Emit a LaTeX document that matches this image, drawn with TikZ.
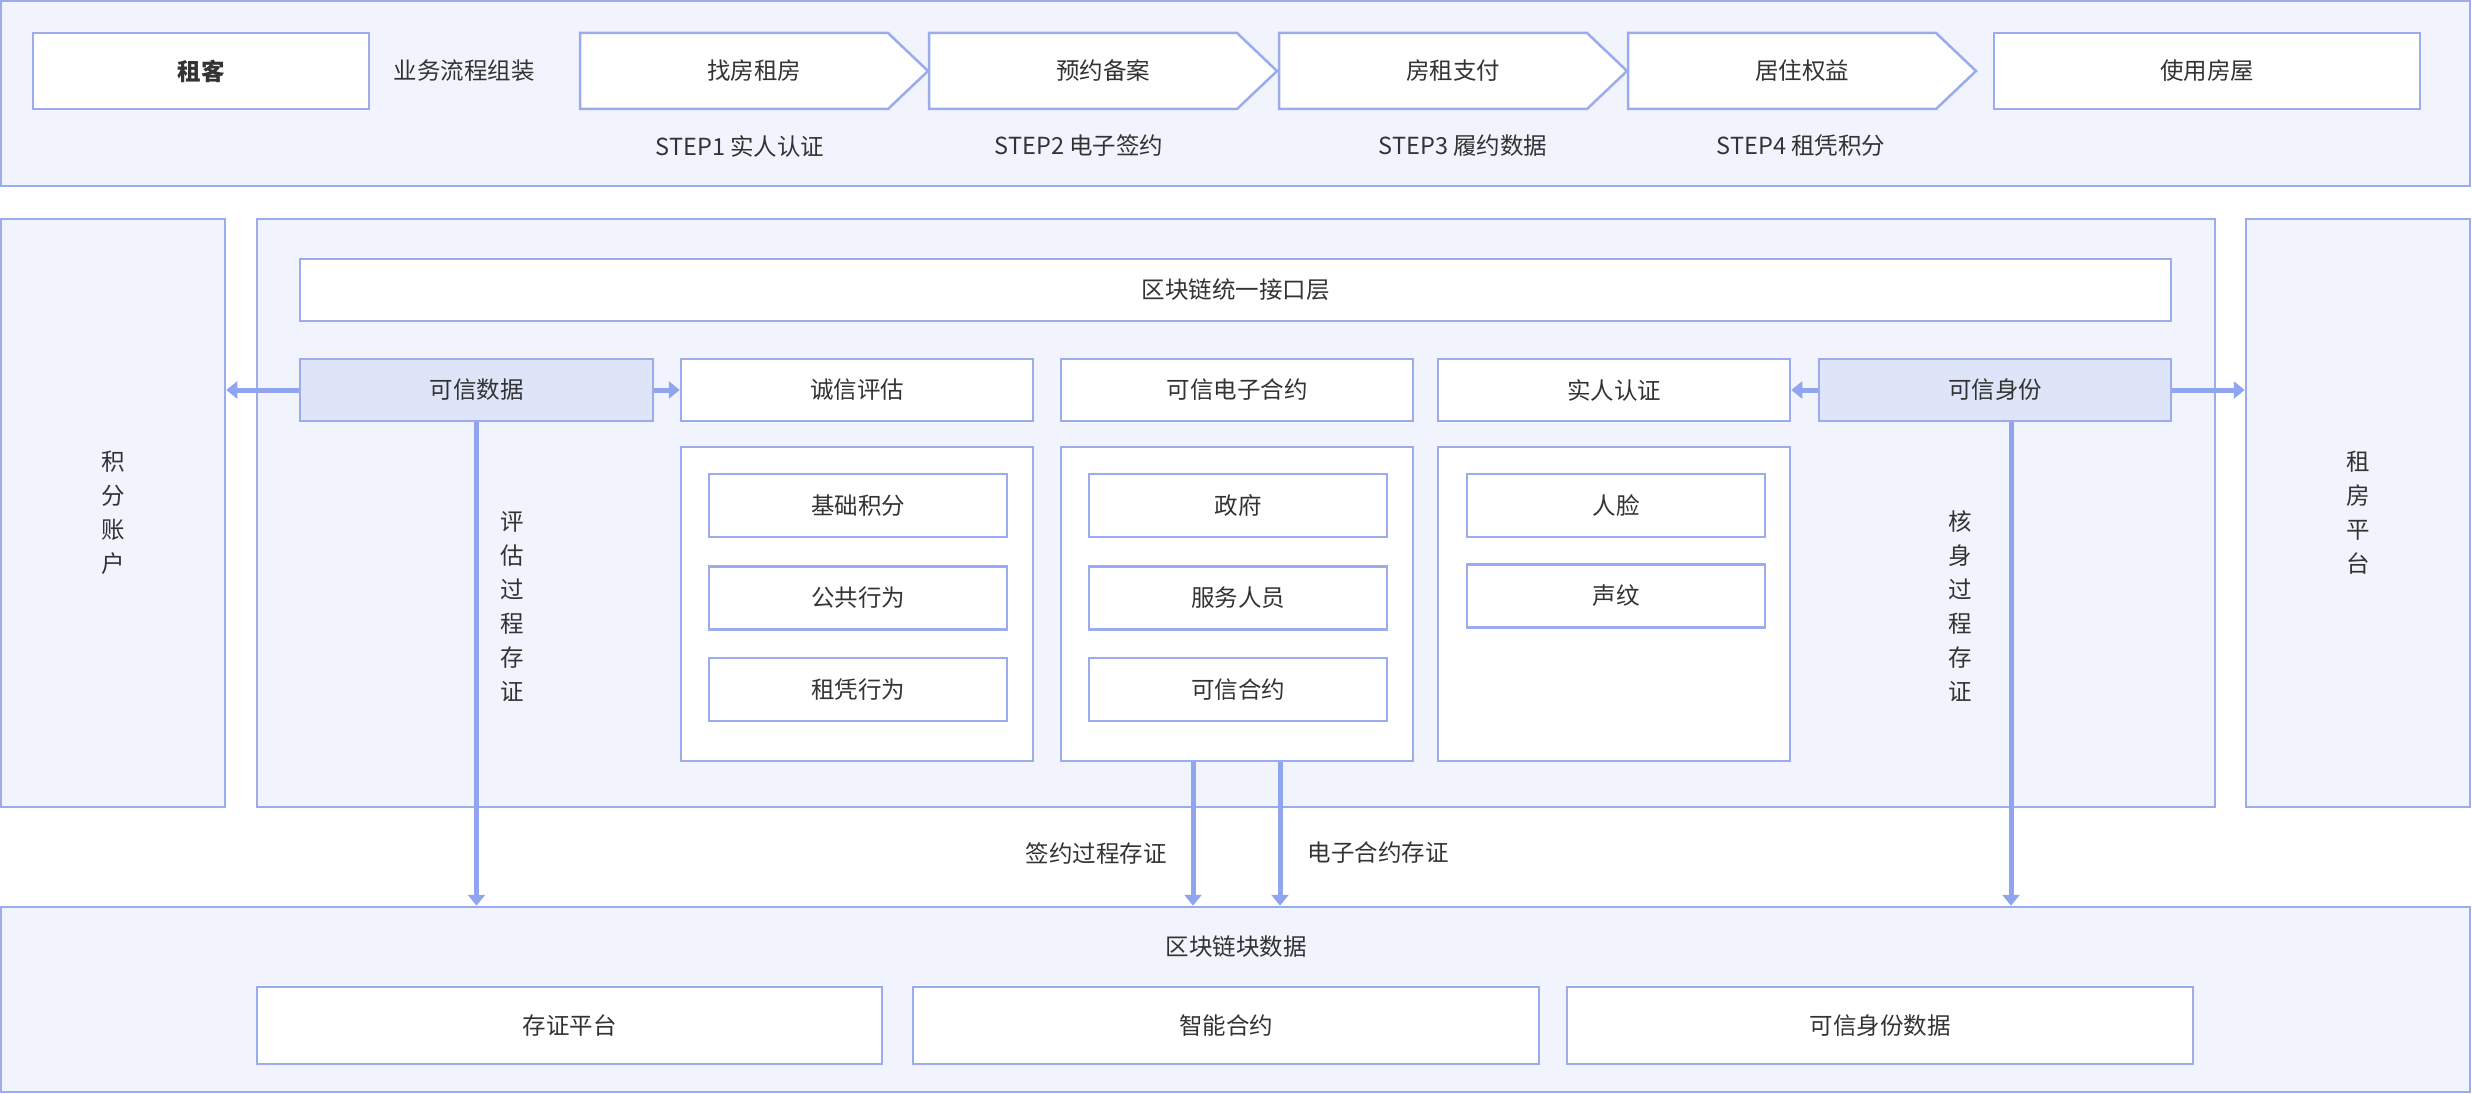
\documentclass[tikz,border=0pt]{standalone}
\usepackage{fontspec}
\setmainfont{Noto Sans CJK SC}
\usetikzlibrary{arrows.meta}

\definecolor{edge}{HTML}{9AABEE}
\definecolor{pale}{HTML}{F1F4FC}
\definecolor{soft}{HTML}{DEE5F9}
\definecolor{wire}{HTML}{91A4F0}
\definecolor{ink}{HTML}{333333}

\tikzset{
  lbl/.style={text=ink, font=\fontsize{23.5}{34}\selectfont, align=center, inner sep=0pt},
  panel/.style={lbl, draw=edge, fill=pale, line width=2.5pt},
  box/.style={panel, fill=white},
  keybox/.style={panel, fill=soft},
  link/.style={draw=wire, line width=5pt, -{Triangle[length=11pt,width=17pt]}},
}

\begin{document}
\begin{tikzpicture}[x=1pt,y=-1pt]
\useasboundingbox (0,0) rectangle (2472,1094);
%\draw[step=100,gray,very thin] (0,0) grid (2472,1094);

% business flow
\node[panel, minimum width=2469pt, minimum height=185pt] (flow) at (1235.5,93.5) {};
\node[box, minimum width=336pt, minimum height=76pt, font=\fontsize{23.5}{34}\selectfont\bfseries] (tenant) at (201,71) {租客};
\node[lbl] (assemble) at (464,71) {业务流程组装};
\foreach \x/\t [count=\i] in {580/找房租房, 929/预约备案, 1279/房租支付, 1628/居住权益}{
  \draw[draw=edge, fill=white, line width=2.5pt] (\x,33) -- ++(308,0) -- ++(40,38) -- ++(-40,38) -- ++(-308,0) -- cycle;
  \node[lbl] (stage\i) at (\x+174,71) {\t};
}
\node[box, minimum width=426pt, minimum height=76pt] (usehouse) at (2207,71) {使用房屋};
\node[lbl] (step1) at (740,146) {STEP1 实人认证};
\node[lbl] (step2) at (1079,146) {STEP2 电子签约};
\node[lbl] (step3) at (1463,146) {STEP3 履约数据};
\node[lbl] (step4) at (1801,146) {STEP4 租凭积分};

% side panels and main panel
\node[panel, minimum width=224pt, minimum height=588pt] (points) at (113,513) {积\\分\\账\\户};
\node[panel, minimum width=1958pt, minimum height=588pt] (core) at (1236,513) {};
\node[panel, minimum width=224pt, minimum height=588pt] (rent) at (2358,513) {租\\房\\平\\台};

\node[box, minimum width=1871pt, minimum height=62pt] (api) at (1235.5,290) {区块链统一接口层};

\node[keybox, minimum width=353pt, minimum height=62pt] (trust) at (476.5,390) {可信数据};
\node[box, minimum width=352pt, minimum height=62pt] (credit) at (857,390) {诚信评估};
\node[box, minimum width=352pt, minimum height=62pt] (econtract) at (1237,390) {可信电子合约};
\node[box, minimum width=352pt, minimum height=62pt] (realname) at (1614,390) {实人认证};
\node[keybox, minimum width=352pt, minimum height=62pt] (ident) at (1995,390) {可信身份};

\node[box, minimum width=352pt, minimum height=314pt] (creditbox) at (857,604) {};
\node[box, minimum width=352pt, minimum height=314pt] (contractbox) at (1237,604) {};
\node[box, minimum width=352pt, minimum height=314pt] (realbox) at (1614,604) {};

\node[box, minimum width=298pt, minimum height=63pt] (basic) at (858,505.5) {基础积分};
\node[box, minimum width=298pt, minimum height=63pt] (public) at (858,598) {公共行为};
\node[box, minimum width=298pt, minimum height=63pt] (rental) at (858,689.5) {租凭行为};
\node[box, minimum width=298pt, minimum height=63pt] (gov) at (1238,505.5) {政府};
\node[box, minimum width=298pt, minimum height=63pt] (staff) at (1238,598) {服务人员};
\node[box, minimum width=298pt, minimum height=63pt] (signed) at (1238,689.5) {可信合约};
\node[box, minimum width=298pt, minimum height=63pt] (face) at (1616,505.5) {人脸};
\node[box, minimum width=298pt, minimum height=63pt] (voice) at (1616,596) {声纹};

\node[lbl] (evalnote) at (512,607) {评\\估\\过\\程\\存\\证};
\node[lbl] (kycnote) at (1960,606) {核\\身\\过\\程\\存\\证};

% chain data
\node[panel, minimum width=2469pt, minimum height=185pt] (chain) at (1235.5,999.5) {};
\node[lbl] (chaintitle) at (1236,947) {区块链块数据};
\node[box, minimum width=625pt, minimum height=77pt] (proof) at (569.5,1025.5) {存证平台};
\node[box, minimum width=626pt, minimum height=77pt] (smart) at (1226,1025.5) {智能合约};
\node[box, minimum width=626pt, minimum height=77pt] (iddata) at (1880,1025.5) {可信身份数据};

\node[lbl] (signnote) at (1096,853) {签约过程存证};
\node[lbl] (docnote) at (1378,853) {电子合约存证};

% links
\draw[link] (trust.west) -- (trust.west -| points.east);
\draw[link] (trust.east) -- (credit.west);
\draw[link] (trust.south) -- (trust.south |- chain.north);
\draw[link] (ident.west) -- (realname.east);
\draw[link] (ident.east) -- (ident.east -| rent.west);
\draw[link] ([xshift=16pt]ident.south) -- ([xshift=16pt]ident.south |- chain.north);
\draw[link] ([xshift=-44pt]contractbox.south) -- ([xshift=-44pt]contractbox.south |- chain.north);
\draw[link] ([xshift=43pt]contractbox.south) -- ([xshift=43pt]contractbox.south |- chain.north);

\end{tikzpicture}
\end{document}
